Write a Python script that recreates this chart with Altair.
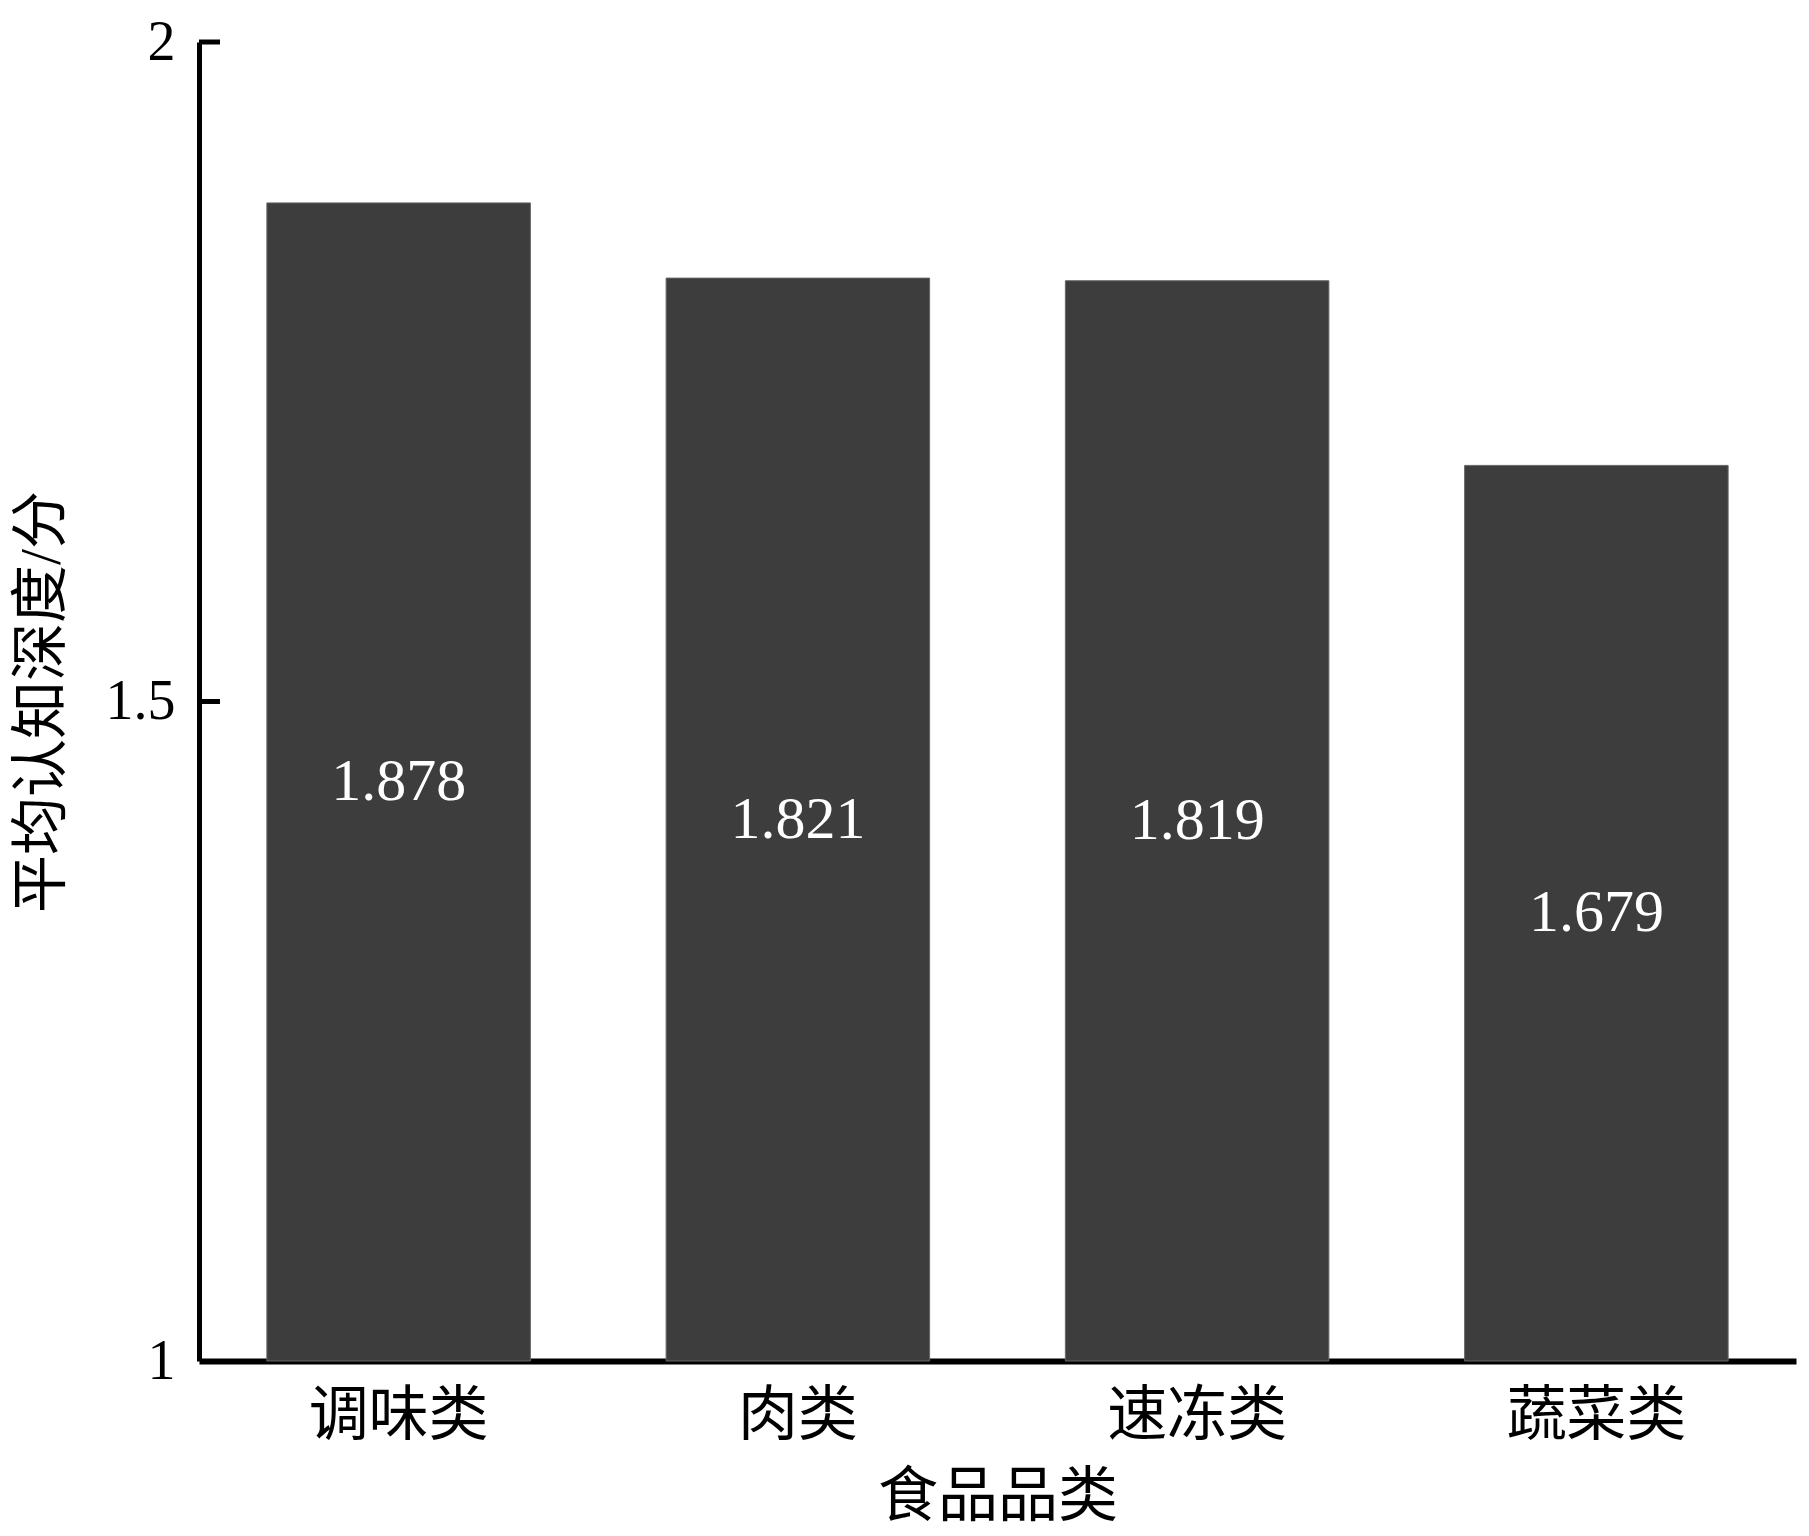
import altair as alt
import pandas as pd

categories = ["调味类", "肉类", "速冻类", "蔬菜类"]
values = [1.878, 1.821, 1.819, 1.679]
y_ticks = [1, 1.5, 2]
tick_marks = [1.5, 2]

FONT = "Liberation Serif, Times New Roman, Noto Sans CJK SC"

df = pd.DataFrame({"cat": categories, "val": values})
ticks_df = pd.DataFrame({"t": tick_marks})

W, H = 1597, 1319

xenc = alt.X("cat:N", sort=categories, title="食品品类",
             scale=alt.Scale(paddingInner=0.34, paddingOuter=0.17),
             axis=alt.Axis(labelAngle=0, labelFontSize=60, titleFontSize=60,
                           labelFont=FONT, titleFont=FONT, labelColor="black",
                           titleColor="black", ticks=False, labelPadding=26,
                           titlePadding=22, titleFontWeight="normal",
                           domainColor="black", domainWidth=6))
yscale = alt.Scale(domain=[1, 2], nice=False, zero=False)

bars = alt.Chart(df).mark_bar(color="#3d3d3d", stroke="#666666", strokeWidth=1).encode(
    x=xenc,
    y=alt.Y("val:Q", scale=yscale, title="平均认知深度/分",
            axis=alt.Axis(values=y_ticks, ticks=False, grid=False,
                          labelFontSize=56, titleFontSize=58, labelFont=FONT,
                          titleFont=FONT, labelColor="black", titleColor="black",
                          labelPadding=24, titlePadding=34, titleFontWeight="normal",
                          domainColor="black", domainWidth=5,
                          labelExpr="datum.value == 1 ? '1' : datum.value == 2 ? '2' : format(datum.value, '.1f')")),
    y2=alt.datum(1),
)

labels = alt.Chart(df).transform_calculate(mid="(datum.val + 1) / 2").mark_text(
    color="white", fontSize=60, font=FONT, baseline="middle", align="center"
).encode(
    x=alt.X("cat:N", sort=categories),
    y=alt.Y("mid:Q", scale=yscale),
    text=alt.Text("val:Q", format=".3f"),
)

tickrules = alt.Chart(ticks_df).mark_rule(color="black", strokeWidth=5).encode(
    x=alt.value(0), x2=alt.value(21),
    y=alt.Y("t:Q", scale=yscale),
)

chart = alt.layer(bars, labels, tickrules).properties(
    width=W, height=H,
    autosize=alt.AutoSizeParams(type="none"),
    padding={"left": 191, "top": 34, "right": 5, "bottom": 170},
).configure(background="white").configure_view(stroke=None, strokeWidth=0)

chart.save("out.html", embed_options={"renderer": "svg", "actions": False})
